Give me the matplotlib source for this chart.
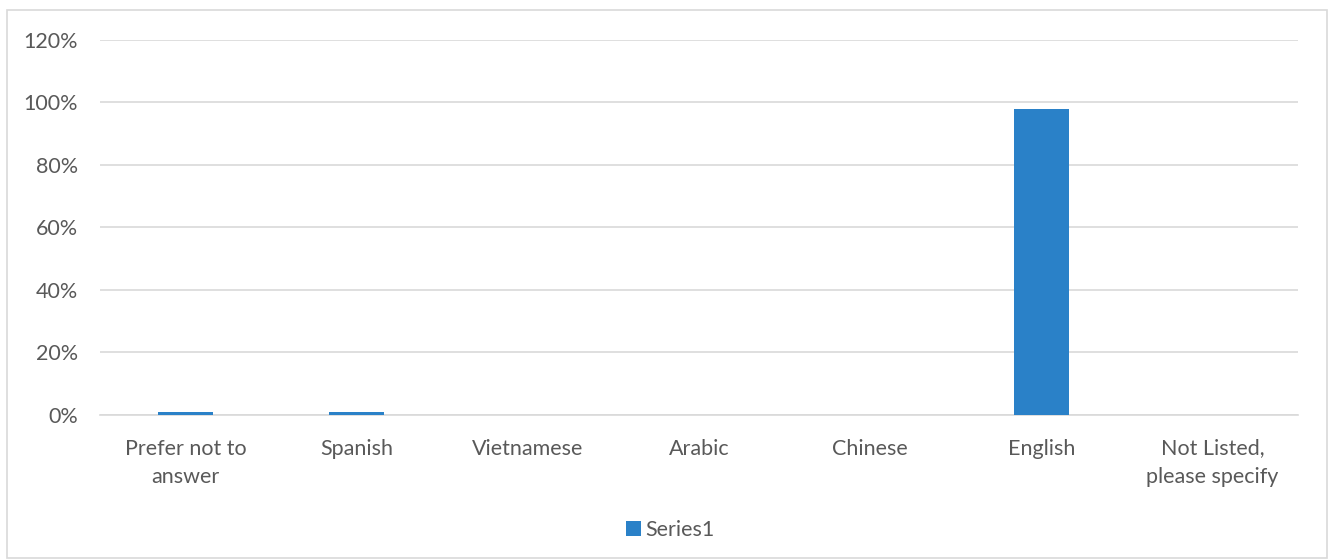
import numpy as np
import matplotlib.pyplot as plt
from matplotlib.patches import Rectangle
from matplotlib.ticker import PercentFormatter

languages = ["Prefer not to\nanswer", "Spanish", "Vietnamese", "Arabic",
             "Chinese", "English", "Not Listed,\nplease specify"]
share = [0.01, 0.01, 0.0, 0.0, 0.0, 0.98, 0.0]
yticks = [0, 0.2, 0.4, 0.6, 0.8, 1.0, 1.2]

plt.rcParams['font.family'] = ['Lato', 'DejaVu Sans']
txt = '#595959'
grid = '#d9d9d9'
fs = 15.5

fig = plt.figure(figsize=(13.28, 5.6), dpi=100)
ax = fig.add_axes([0.0753, 0.259, 0.9021, 0.6696])

x = np.arange(len(languages))
ax.bar(x, share, width=0.32, color='#2a81c8', label='Series1', zorder=3)

ax.set_xlim(-0.5, len(languages) - 0.5)
ax.set_ylim(0, 1.2)
ax.set_yticks(yticks)
ax.yaxis.set_major_formatter(PercentFormatter(1.0, decimals=0))
ax.set_xticks(x)
ax.set_xticklabels(languages, fontsize=fs, color=txt, linespacing=1.55)
ax.tick_params(axis='y', labelsize=fs, labelcolor=txt, length=0, pad=16)
ax.tick_params(axis='x', length=0, pad=17)
ax.grid(axis='y', color=grid, linewidth=1.2, zorder=0)
for s in ['top', 'right', 'left']:
    ax.spines[s].set_visible(False)
ax.spines['bottom'].set_color(grid)
ax.spines['bottom'].set_linewidth(1.2)

fig.legend(loc='center', bbox_to_anchor=(0.505, 0.054), frameon=False,
           fontsize=fs, labelcolor=txt, handlelength=0.7, handleheight=0.7,
           handletextpad=0.2)

# light frame around the whole chart
fig.patches.append(Rectangle((0.005, 0.003), 0.994, 0.98, transform=fig.transFigure,
                             fill=False, edgecolor=grid, linewidth=1.2))

fig.savefig('out.png', dpi=100)
